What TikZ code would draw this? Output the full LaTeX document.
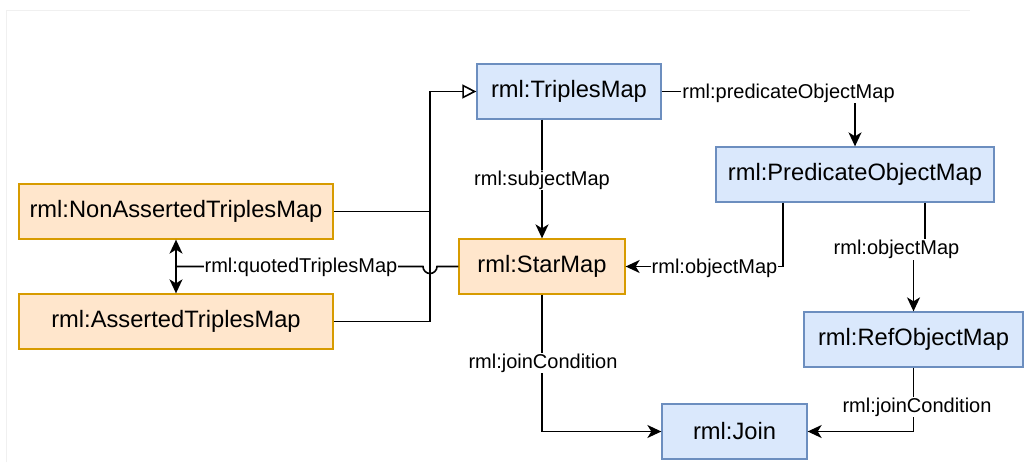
\documentclass[tikz,border=0pt]{standalone}
\usepackage{fontspec}
\setmainfont{Liberation Sans}
\usetikzlibrary{arrows.meta}
\definecolor{bluefill}{HTML}{DAE8FC}
\definecolor{bluedraw}{HTML}{6C8EBF}
\definecolor{orfill}{HTML}{FFE6CC}
\definecolor{ordraw}{HTML}{D79B00}
\definecolor{framegray}{HTML}{F0F0F0}
\tikzset{
  box/.style={rectangle, minimum height=55pt, inner sep=0pt, line width=1.3pt,
    font=\fontsize{23.7}{28}\selectfont},
  bluebox/.style={box, fill=bluefill, draw=bluedraw},
  orbox/.style={box, fill=orfill, draw=ordraw},
  edge/.style={line width=1.6pt, draw=black},
  arr/.style={edge, -{Stealth[length=14pt,width=13pt,inset=4pt]}},
  dblarr/.style={edge, {Stealth[length=14pt,width=13pt,inset=4pt]}-{Stealth[length=14pt,width=13pt,inset=4pt]}},
  inh/.style={edge, -{Triangle[open,length=14pt,width=14pt,line width=1.6pt]}},
  lbl/.style={fill=white, inner sep=1pt, font=\fontsize{20}{24}\selectfont}
}
\begin{document}
\begin{tikzpicture}[x=1pt,y=-1pt]
\useasboundingbox (0,0) rectangle (1030,465);
\fill[white] (0,0) rectangle (1030,465);
\draw[framegray, line width=0.8pt] (6.5,462) -- (6.5,10) -- (970,10);

% nodes
\node[bluebox, minimum width=184pt] (tm) at (569,91.5) {rml:TriplesMap};
\node[bluebox, minimum width=278pt] (pom) at (855,174.5) {rml:PredicateObjectMap};
\node[orbox, minimum width=314pt] (nat) at (176,211.5) {rml:NonAssertedTriplesMap};
\node[orbox, minimum width=166pt] (sm) at (542,266.5) {rml:StarMap};
\node[orbox, minimum width=314pt] (at) at (176,321.5) {rml:AssertedTriplesMap};
\node[bluebox, minimum width=219pt] (rom) at (913.5,339.5) {rml:RefObjectMap};
\node[bluebox, minimum width=145pt] (join) at (734.5,431.5) {rml:Join};

% junction coordinates
\coordinate (j) at (430,211.5);
\coordinate (jmp) at (437,266.5);
\coordinate (pomL) at ([xshift=-72pt]pom.south);
\coordinate (pomR) at ([xshift=70pt]pom.south);
\coordinate (bend) at (925,250);

% edges
\draw[inh] (nat.east) -- (j) |- (tm.west);
\draw[edge] (at.east) -| (j);
\draw[arr] (sm.north |- tm.south) -- (sm.north);
\draw[arr] (tm.east) -| (pom.north);
\draw[arr] (pomL) |- (sm.east);
\draw[arr] (pomR) -- (bend) -- (bend -| rom.north) -- (rom.north);
\draw[edge] (sm.west) -- (jmp) arc (0:-180:7pt) -- (nat.south |- sm.west);
\draw[dblarr] (nat.south) -- (at.north);
\draw[arr] (sm.south) |- (join.west);
\draw[arr] (rom.south) |- (join.east);

% labels
\node[lbl] (l1) at (542,180) {rml:subjectMap};
\node[lbl] (l2) at (788.5,93) {rml:predicateObjectMap};
\node[lbl] (l3) at (714.5,268) {rml:objectMap};
\node[lbl] (l4) at (896.5,249.5) {rml:objectMap};
\node[lbl] (l5) at (301,267) {rml:quotedTriplesMap};
\node[lbl] (l6) at (543,363) {rml:joinCondition};
\node[lbl] (l7) at (917,407) {rml:joinCondition};
\end{tikzpicture}
\end{document}
